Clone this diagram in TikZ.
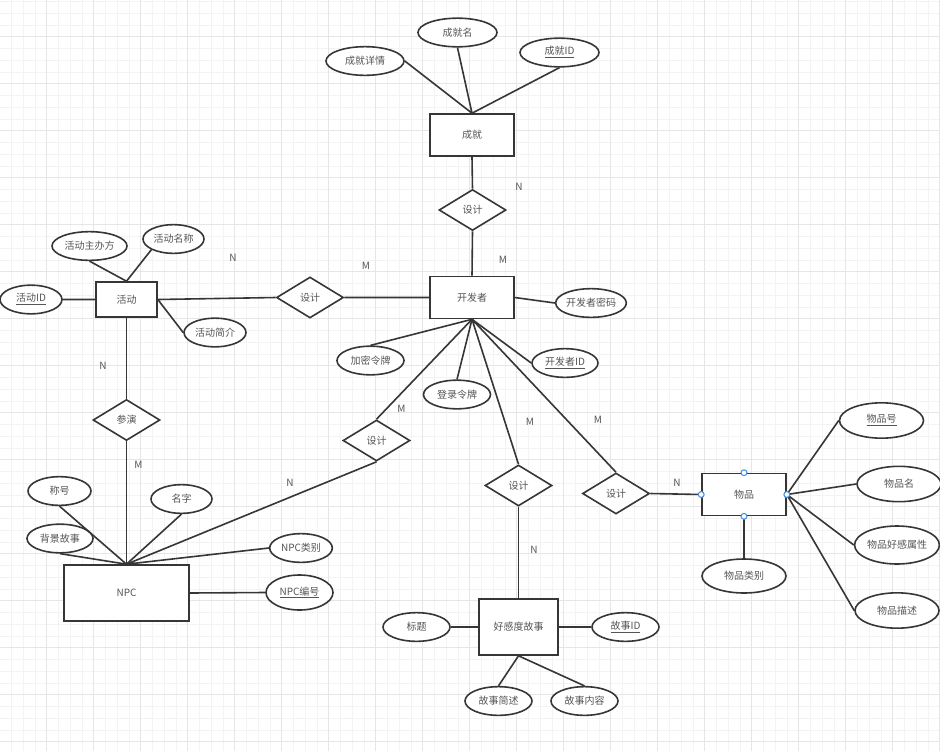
\documentclass[tikz,border=0pt]{standalone}
\usepackage{fontspec}
\newfontfamily\cjk{Noto Sans CJK SC}
\usetikzlibrary{shapes.geometric}
\definecolor{erline}{HTML}{363636}
\definecolor{ertext}{HTML}{555555}
\definecolor{gridminor}{HTML}{F3F3F3}
\definecolor{gridmajor}{HTML}{E6E6E6}
\definecolor{handle}{HTML}{4A90E2}
\tikzset{
  every node/.style={font={\cjk\fontsize{7.5}{9}\selectfont}, text=ertext},
  entity/.style={draw=erline, line width=1.2pt, fill=white, minimum width=63pt, minimum height=31.5pt, inner sep=0pt},
  attr/.style={ellipse, draw=erline, line width=1.2pt, fill=white, minimum width=50.25pt, minimum height=21.5pt, inner sep=0pt},
  bigattr/.style={attr, minimum width=63pt, minimum height=26.5pt},
  rel/.style={diamond, draw=erline, line width=1.2pt, fill=white, minimum width=50.25pt, minimum height=30.75pt, inner sep=0pt},
  card/.style={inner sep=0pt},
  link/.style={draw=erline, line width=1.2pt},
}
\begin{document}
\begin{tikzpicture}[x=0.75pt, y=-0.75pt]
\useasboundingbox[fill=white] (0,0) rectangle (940,751);
\foreach \i in {0,...,80} {
  \pgfmathsetmacro{\gx}{-0.33+11.75*\i}
  \draw[gridminor, line width=0.6pt] (\gx,0) -- (\gx,751);
}
\foreach \j in {0,...,63} {
  \pgfmathsetmacro{\gy}{1.45+11.75*\j}
  \draw[gridminor, line width=0.6pt] (0,\gy) -- (940,\gy);
}
\foreach \i in {0,...,20} \draw[gridmajor, line width=0.6pt] (-0.33+47*\i,0) -- (-0.33+47*\i,751);
\foreach \j in {0,...,15} \draw[gridmajor, line width=0.6pt] (0,36.7+47*\j) -- (940,36.7+47*\j);

% entities
\node[entity] (cj) at (472,135) {成就};
\node[entity] (kfz) at (472,297.5) {开发者};
\node[entity, minimum width=45.75pt, minimum height=26.25pt] (hd) at (126.5,299.5) {活动};
\node[entity, minimum width=93.75pt, minimum height=42pt] (npc) at (126.5,593) {NPC};
\node[entity, minimum width=59.25pt, minimum height=42pt] (gs) at (518.5,627) {好感度故事};
\node[entity] (wp) at (744,494.5) {物品};

% relations
\node[rel] (sjcj) at (472.5,210) {设计};
\node[rel] (sjhd) at (310,297.5) {设计};
\node[rel] (cy) at (126.5,420) {参演};
\node[rel] (sjnpc) at (376.5,440.5) {设计};
\node[rel] (sjgs) at (518.5,485.5) {设计};
\node[rel] (sjwp) at (616,493.5) {设计};

% attributes
\node[attr, minimum width=58.5pt] (cjxq) at (365,61) {成就详情};
\node[attr, minimum width=59.25pt] (cjm) at (457.5,32.5) {成就名};
\node[attr, minimum width=59.25pt] (cjid) at (559.5,52.5) {\underline{成就ID}};
\node[attr, minimum width=51pt] (kfzmm) at (591,303) {开发者密码};
\node[attr] (jmlp) at (370.5,360.5) {加密令牌};
\node[attr] (dllp) at (457,394.5) {登录令牌};
\node[attr, minimum width=49.5pt] (kfzid) at (565,363) {\underline{开发者ID}};
\node[attr, minimum width=46.5pt] (hdid) at (31,299.5) {\underline{活动ID}};
\node[attr, minimum width=56.25pt] (hdzbf) at (89.5,246) {活动主办方};
\node[attr, minimum width=45.75pt] (hdmc) at (173.5,239) {活动名称};
\node[attr, minimum width=46.5pt] (hdjj) at (215,332.5) {活动简介};
\node[attr, minimum width=47.25pt] (ch) at (59.5,491) {称号};
\node[attr, minimum width=45.75pt] (mz) at (181.5,499) {名字};
\node[attr, minimum width=49.5pt] (bjgs) at (60,538.5) {背景故事};
\node[attr, minimum width=47pt] (npclb) at (301,548) {NPC类别};
\node[attr, minimum height=26.25pt] (npcbh) at (299.5,592.5) {\underline{NPC编号}};
\node[attr] (bt) at (416.5,627) {标题};
\node[attr] (gsid) at (625.5,627) {\underline{故事ID}};
\node[attr] (gsjs) at (498.5,701) {故事简述};
\node[attr] (gsnr) at (584.5,701) {故事内容};
\node[bigattr] (wph) at (881.5,420.5) {\underline{物品号}};
\node[bigattr] (wpm) at (899,484) {物品名};
\node[bigattr, minimum height=28.5pt] (wphg) at (897,545) {物品好感属性};
\node[bigattr] (wpms) at (897,610.5) {物品描述};
\node[bigattr, minimum height=25.5pt] (wplb) at (744,576) {物品类别};

% connectors
\path[link] (cj.north) -- (cjxq.east) (cj.north) -- (cjm.south) (cj.north) -- (cjid.south);
\path[link] (cj.south) -- (sjcj.north) (sjcj.south) -- (kfz.north);
\path[link] (kfz.east) -- (kfzmm.west);
\path[link] (kfz.south) -- (jmlp.north) (kfz.south) -- (dllp.north) (kfz.south) -- (kfzid.west);
\path[link] (kfz.south) -- (sjnpc.north) (kfz.south) -- (sjgs.north) (kfz.south) -- (sjwp.north);
\path[link] (kfz.west) -- (sjhd.east) (sjhd.west) -- (hd.east);
\path[link] (hd.west) -- (hdid.east) (hd.north) -- (hdzbf.south) (hd.north) -- (hdmc.south west) (hd.east) -- (hdjj.west);
\path[link] (hd.south) -- (cy.north) (cy.south) -- (npc.north);
\path[link] (npc.north) -- (ch.south) (npc.north) -- (bjgs.south) (npc.north) -- (mz.south);
\path[link] (npc.north) -- (sjnpc.south) (npc.north) -- (npclb.west) (npc.east) -- (npcbh.west);
\path[link] (sjgs.south) -- (gs.north) (bt.east) -- (gs.west) (gs.east) -- (gsid.west);
\path[link] (gs.south) -- (gsjs.north) (gs.south) -- (gsnr.north);
\path[link] (sjwp.east) -- (wp.west) (wp.south) -- (wplb.north);
\path[link] (wp.east) -- (wph.west) (wp.east) -- (wpm.west) (wp.east) -- (wphg.west) (wp.east) -- (wpms.west);
\foreach \a in {north,south,west,east}
  \draw[handle, fill=white, line width=0.8pt] (wp.\a) circle (2.2pt);

% cardinalities
\node[card] (c1) at (519,187) {N};
\node[card] (c2) at (503,260) {M};
\node[card] (c3) at (233,258) {N};
\node[card] (c4) at (366,265.5) {M};
\node[card] (c5) at (103,366) {N};
\node[card] (c6) at (138.5,465) {M};
\node[card] (c7) at (401.5,408.5) {M};
\node[card] (c8) at (290,483) {N};
\node[card] (c9) at (530,422) {M};
\node[card] (c10) at (534,550) {N};
\node[card] (c11) at (598,420) {M};
\node[card] (c12) at (677,483) {N};
\end{tikzpicture}
\end{document}
